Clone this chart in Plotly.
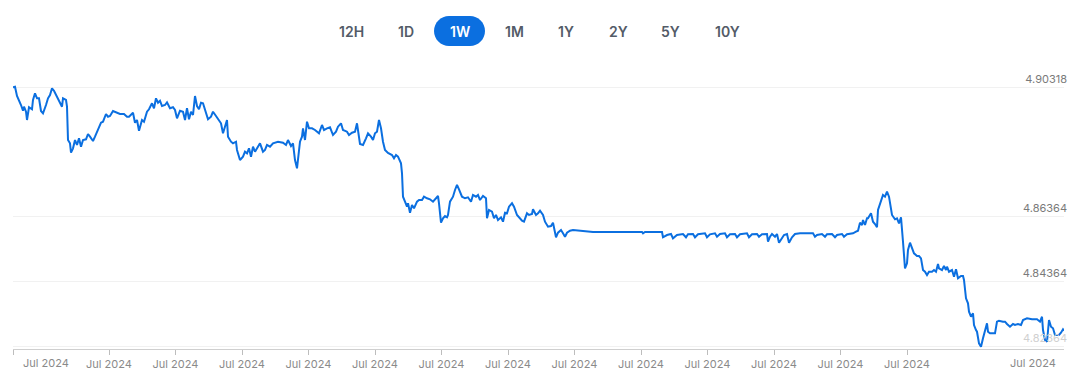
import plotly.graph_objects as go

# ---- data (time index across the 1W window, exchange rate) ----
times = [
    0, 2, 4, 5, 8, 10, 11, 13, 14, 16,
    19, 20, 22, 24, 26, 28, 30, 33, 35, 37,
    39, 41, 44, 46, 49, 50, 53, 54, 55, 57,
    58, 60, 62, 64, 66, 68, 70, 73, 75, 77,
    80, 82, 85, 88, 90, 93, 95, 97, 100, 104,
    107, 111, 114, 116, 120, 122, 124, 126, 129, 131,
    134, 136, 139, 141, 143, 145, 147, 149, 152, 154,
    157, 160, 162, 164, 167, 170, 172, 174, 176, 178,
    180, 182, 184, 186, 188, 190, 193, 195, 198, 200,
    203, 205, 208, 210, 212, 214, 215, 218, 220, 223,
    224, 227, 230, 232, 234, 236, 238, 240, 242, 244,
    247, 250, 252, 254, 257, 260, 265, 270, 273, 275,
    278, 280, 282, 284, 285, 287, 289, 290, 292, 294,
    296, 299, 302, 306, 309, 311, 314, 317, 320, 323,
    325, 328, 330, 334, 336, 339, 342, 344, 347, 350,
    353, 355, 358, 360, 362, 364, 366, 368, 370, 372,
    375, 379, 381, 383, 385, 388, 389, 390, 392, 394,
    395, 397, 399, 401, 404, 406, 409, 411, 414, 417,
    420, 423, 425, 426, 428, 430, 432, 434, 435, 437,
    440, 442, 444, 446, 449, 452, 455, 458, 460, 463,
    465, 467, 470, 473, 474, 476, 479, 481, 483, 485,
    488, 490, 492, 494, 496, 499, 501, 504, 506, 509,
    511, 514, 516, 519, 520, 523, 525, 527, 530, 532,
    535, 538, 540, 541, 543, 545, 548, 550, 552, 554,
    557, 560, 567, 574, 580, 600, 629, 630, 632, 649,
    650, 654, 658, 660, 664, 670, 673, 675, 680, 682,
    685, 692, 694, 697, 702, 704, 707, 712, 714, 717,
    722, 724, 727, 734, 736, 739, 744, 746, 749, 754,
    755, 757, 759, 762, 764, 766, 769, 771, 774, 776,
    779, 782, 787, 800, 802, 804, 809, 812, 814, 819,
    822, 824, 829, 831, 834, 838, 840, 843, 845, 847,
    849, 850, 852, 854, 855, 858, 860, 862, 864, 865,
    867, 870, 872, 874, 876, 879, 882, 884, 886, 888,
    890, 892, 894, 895, 897, 899, 901, 904, 906, 908,
    910, 912, 914, 916, 919, 921, 923, 925, 926, 929,
    931, 933, 934, 936, 939, 941, 943, 945, 948, 950,
    951, 953, 955, 956, 958, 960, 961, 963, 964, 966,
    968, 970, 972, 974, 975, 977, 980, 982, 984, 986,
    990, 992, 994, 997, 1000, 1002, 1005, 1008, 1010, 1014,
    1019, 1024, 1027, 1029, 1030, 1032, 1034, 1035, 1036, 1038,
    1040, 1042, 1044, 1046, 1048, 1050, 1051,
]

rates = [
    4.90324, 4.90342, 4.90056, 4.89995, 4.89779, 4.89604, 4.89727, 4.89573, 4.89318, 4.89709,
    4.89647, 4.89933, 4.90139, 4.89985, 4.89985, 4.89595, 4.89524, 4.89779, 4.89985, 4.90087,
    4.90293, 4.90219, 4.90035, 4.89881, 4.89727, 4.89985, 4.89933, 4.89727, 4.88702, 4.88601,
    4.88312, 4.88447, 4.88702, 4.88549, 4.88755, 4.88496, 4.88702, 4.88724, 4.88887, 4.88804,
    4.88672, 4.88804, 4.89010, 4.89235, 4.89265, 4.89502, 4.89419, 4.89441, 4.89595, 4.89555,
    4.89502, 4.89502, 4.89419, 4.89419, 4.89542, 4.89235, 4.89318, 4.88988, 4.89318, 4.89265,
    4.89573, 4.89647, 4.89831, 4.89678, 4.89985, 4.89850, 4.89911, 4.89748, 4.89779, 4.89862,
    4.89678, 4.89709, 4.89625, 4.89370, 4.89604, 4.89573, 4.89318, 4.89678, 4.89339, 4.89573,
    4.89471, 4.90056, 4.89748, 4.89647, 4.89850, 4.89831, 4.89573, 4.89339, 4.89419, 4.89573,
    4.89441, 4.89339, 4.89216, 4.88909, 4.89112, 4.89318, 4.88804, 4.88650, 4.88601, 4.88650,
    4.88395, 4.88087, 4.88189, 4.88342, 4.88293, 4.88447, 4.88189, 4.88496, 4.88342, 4.88447,
    4.88601, 4.88342, 4.88395, 4.88549, 4.88496, 4.88601, 4.88650, 4.88619, 4.88549, 4.88702,
    4.88518, 4.88601, 4.88087, 4.87832, 4.88189, 4.88650, 4.88804, 4.89062, 4.88702, 4.89265,
    4.89062, 4.89062, 4.89010, 4.88909, 4.89164, 4.89010, 4.89062, 4.89093, 4.88856, 4.88958,
    4.89112, 4.89216, 4.89010, 4.88958, 4.88856, 4.88927, 4.88958, 4.89216, 4.88579, 4.88549,
    4.88755, 4.88909, 4.88804, 4.88702, 4.88909, 4.88958, 4.89318, 4.89062, 4.88650, 4.88395,
    4.88302, 4.88241, 4.88139, 4.88241, 4.88189, 4.87985, 4.87678, 4.86958, 4.86804, 4.86650,
    4.86755, 4.86465, 4.86702, 4.86601, 4.86804, 4.86856, 4.86856, 4.86958, 4.86909, 4.86878,
    4.86804, 4.86909, 4.86979, 4.86755, 4.86158, 4.86293, 4.86364, 4.86324, 4.86395, 4.86804,
    4.86958, 4.87164, 4.87318, 4.87185, 4.86958, 4.86909, 4.86939, 4.86804, 4.87010, 4.86958,
    4.87010, 4.86856, 4.86979, 4.86909, 4.86293, 4.86549, 4.86496, 4.86293, 4.86395, 4.86241,
    4.86324, 4.86189, 4.86465, 4.86447, 4.86650, 4.86755, 4.86650, 4.86395, 4.86324, 4.86219,
    4.86189, 4.86447, 4.86395, 4.86425, 4.86570, 4.86395, 4.86447, 4.86527, 4.86395, 4.86189,
    4.86035, 4.86056, 4.86158, 4.86016, 4.85709, 4.85850, 4.85933, 4.85832, 4.85727, 4.85850,
    4.85912, 4.85933, 4.85912, 4.85912, 4.85872, 4.85872, 4.85872, 4.85832, 4.85872, 4.85872,
    4.85709, 4.85779, 4.85810, 4.85678, 4.85779, 4.85810, 4.85709, 4.85801, 4.85810, 4.85709,
    4.85801, 4.85832, 4.85709, 4.85801, 4.85832, 4.85727, 4.85810, 4.85832, 4.85709, 4.85801,
    4.85810, 4.85709, 4.85801, 4.85832, 4.85709, 4.85801, 4.85810, 4.85727, 4.85801, 4.85810,
    4.85573, 4.85727, 4.85810, 4.85727, 4.85810, 4.85542, 4.85678, 4.85779, 4.85810, 4.85542,
    4.85709, 4.85810, 4.85832, 4.85832, 4.85727, 4.85779, 4.85810, 4.85727, 4.85801, 4.85810,
    4.85709, 4.85779, 4.85810, 4.85727, 4.85801, 4.85810, 4.85832, 4.85881, 4.85912, 4.86158,
    4.86087, 4.86241, 4.86087, 4.86293, 4.86293, 4.86447, 4.86189, 4.86118, 4.86016, 4.86549,
    4.86755, 4.87010, 4.86958, 4.87112, 4.86958, 4.86395, 4.86262, 4.86293, 4.86139, 4.86324,
    4.85573, 4.84755, 4.84909, 4.85318, 4.85542, 4.85370, 4.85216, 4.85133, 4.85133, 4.85062,
    4.84702, 4.84650, 4.84549, 4.84650, 4.84650, 4.84702, 4.84650, 4.84887, 4.84755, 4.84702,
    4.84825, 4.84702, 4.84804, 4.84650, 4.84702, 4.84496, 4.84724, 4.84447, 4.84518, 4.84518,
    4.84395, 4.83832, 4.83678, 4.83419, 4.83265, 4.83370, 4.83010, 4.82856, 4.82804, 4.82447,
    4.82342, 4.82601, 4.82856, 4.83062, 4.82804, 4.82755, 4.82755, 4.82755, 4.83112, 4.83142,
    4.83112, 4.83112, 4.83041, 4.82958, 4.83041, 4.83010, 4.83041, 4.83010, 4.83164, 4.83216,
    4.83185, 4.83185, 4.83112, 4.83265, 4.82856, 4.82549, 4.82496, 4.83010, 4.83164, 4.82958,
    4.82909, 4.82702, 4.82702, 4.82702, 4.82773, 4.82878, 4.82835,
]

y_tick_values = [4.82364, 4.84364, 4.86364, 4.90318]
y_tick_labels = ["4.82364", "4.84364", "4.86364", "4.90318"]
x_tick_values = [0, 96, 162.5, 229, 295.5, 362, 428.5, 495, 561.5, 628,
                 694.5, 761, 827.5, 894, 1051]
x_tick_label = "Jul 2024"
range_buttons = ["12H", "1D", "1W", "1M", "1Y", "2Y", "5Y", "10Y"]
selected_button = "1W"

assert len(times) == len(rates)

# ---- layout constants ----
W, H = 1072, 364
ML, MR, MT, MB = 5, 16, 62, 23
BLUE = "#0b6fe0"
FONT = "Inter, Roboto, Arial, sans-serif"

# button placement: offsets (px) from the plot's top-left corner
button_dx = [338, 393, 446.5, 501, 553, 605, 657, 714]
button_dy = 39

fig = go.Figure()
fig.add_trace(go.Scatter(
    x=times, y=rates, mode="lines",
    line=dict(color=BLUE, width=2),
    hoverinfo="x+y", showlegend=False,
))

yticktext = []
for v, lab in zip(y_tick_values, y_tick_labels):
    if v == min(y_tick_values):
        yticktext.append('<span style="color:#d0d0d0">' + lab + '</span>')
    else:
        yticktext.append(lab)

xticktext = ["" if (t == x_tick_values[0] or t == x_tick_values[-1]) else x_tick_label
             for t in x_tick_values]

fig.update_layout(
    width=W, height=H, autosize=False,
    margin=dict(l=ML, r=MR, t=MT, b=MB, pad=0, autoexpand=False),
    paper_bgcolor="white", plot_bgcolor="white",
    font=dict(family=FONT, color="#777777", size=11),
    xaxis=dict(
        range=[0, 1051], showgrid=False, zeroline=False, automargin=False,
        showline=True, linecolor="#cfcfcf", linewidth=1,
        ticks="outside", ticklen=5, tickcolor="#bdbdbd", tickwidth=1,
        tickvals=x_tick_values, ticktext=xticktext,
        tickfont=dict(size=11, color="#8a8a8a", family=FONT),
        fixedrange=True,
    ),
    yaxis=dict(
        range=[4.82272, 4.90856], side="right", automargin=False,
        showgrid=True, gridcolor="#f1f1f1", gridwidth=1,
        zeroline=False, showline=False, ticks="",
        tickvals=y_tick_values, ticktext=yticktext,
        ticklabelposition="inside", ticklabelstandoff=-6, ticklabelshift=-8,
        tickfont=dict(size=11, color="#7a7a7a", family=FONT),
        fixedrange=True,
    ),
)

# edge tick labels (first and last), kept inside the axis span
fig.add_annotation(x=0, y=0, xref="x", yref="paper", text=x_tick_label,
                   showarrow=False, xanchor="left", yanchor="top",
                   xshift=8, yshift=-5,
                   font=dict(size=11, color="#8a8a8a", family=FONT))
fig.add_annotation(x=1051, y=0, xref="x", yref="paper", text=x_tick_label,
                   showarrow=False, xanchor="right", yanchor="top",
                   xshift=-6, yshift=-5,
                   font=dict(size=11, color="#8a8a8a", family=FONT))

# range selector buttons
for lab, dx in zip(range_buttons, button_dx):
    is_sel = lab == selected_button
    if is_sel:
        hw, hh, r = 25.5, 15, 15
        s = hw - r
        k = r * 0.552
        cy = button_dy
        pts = [
            f"M {dx - s},{cy - hh}", f"L {dx + s},{cy - hh}",
            f"C {dx + s + k},{cy - hh} {dx + hw},{cy - k} {dx + hw},{cy}",
            f"C {dx + hw},{cy + k} {dx + s + k},{cy + hh} {dx + s},{cy + hh}",
            f"L {dx - s},{cy + hh}",
            f"C {dx - s - k},{cy + hh} {dx - hw},{cy + k} {dx - hw},{cy}",
            f"C {dx - hw},{cy - k} {dx - s - k},{cy - hh} {dx - s},{cy - hh} Z",
        ]
        fig.add_shape(type="path", path=" ".join(pts), xref="paper", yref="paper",
                      xsizemode="pixel", ysizemode="pixel",
                      xanchor=0, yanchor=1,
                      fillcolor=BLUE, line=dict(width=0), layer="above")
    fig.add_annotation(
        x=0, y=1, xref="paper", yref="paper", text=lab, showarrow=False,
        xanchor="center", yanchor="middle", xshift=dx, yshift=button_dy,
        font=dict(size=14, color="white" if is_sel else "#535b67",
                  family=FONT, weight=600),
    )

fig.write_html("out.html")
